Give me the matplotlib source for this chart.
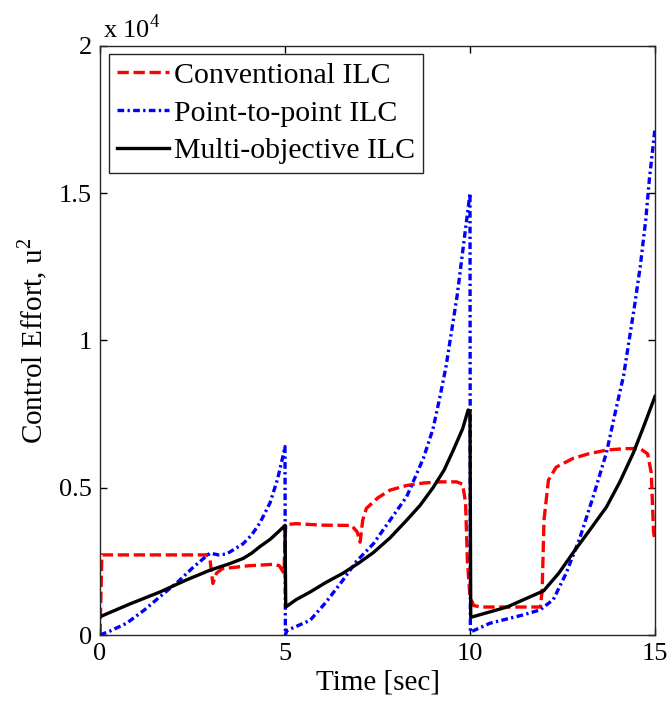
import matplotlib
matplotlib.use("Agg")
import matplotlib.pyplot as plt
import numpy as np
from matplotlib.ticker import FuncFormatter

plt.rcParams['font.family'] = ['Liberation Serif', 'DejaVu Serif']
plt.rcParams['mathtext.fontset'] = 'custom'
plt.rcParams['mathtext.rm'] = 'Liberation Serif'

# ---- data (values in thousands) ----
t_conv = [0, 0.05, 2.9, 2.97, 3.05, 3.15, 3.3, 4.0, 4.7, 4.85, 4.97, 5.02, 5.3, 6.0, 6.8,
          6.95, 7.03, 7.1, 7.2, 7.5, 7.84, 8.3, 8.74, 9.2, 9.64, 9.8, 9.88, 9.93, 10.0,
          10.1, 10.3, 11.9, 11.95, 12.0, 12.12, 12.33, 12.79, 13.2, 13.69, 14.2, 14.6,
          14.8, 14.9, 14.96, 15.0]
u_conv = [0, 2.72, 2.72, 2.6, 1.75, 2.1, 2.25, 2.35, 2.4, 2.35, 2.1, 3.75, 3.78, 3.73, 3.72,
          3.5, 3.15, 3.9, 4.3, 4.65, 4.92, 5.08, 5.16, 5.2, 5.2, 5.12, 4.5, 2.5, 1.3,
          1.0, 0.95, 0.95, 1.5, 3.9, 5.26, 5.7, 6.0, 6.15, 6.28, 6.33, 6.33,
          6.15, 5.5, 3.5, 3.2]

t_p2p = [0, 0.3, 0.72, 1.2, 1.62, 2.1, 2.52, 2.97, 3.2, 3.42, 3.87, 4.1, 4.32, 4.6, 4.8, 4.95, 5.0,
         5.01, 5.05, 5.68, 6.1, 6.57, 6.93, 7.39, 7.84, 8.29, 8.74, 9.0, 9.19, 9.35, 9.5, 9.65,
         9.75, 9.9, 10.0,
         10.01, 10.54, 11.43, 11.89, 12.25, 12.6, 12.97, 13.33, 13.69, 13.96, 14.15, 14.3, 14.45,
         14.6, 14.75, 14.85, 15.0]
u_p2p = [0.0, 0.15, 0.4, 0.85, 1.3, 1.8, 2.3, 2.78, 2.72, 2.75, 3.1, 3.4, 3.8, 4.5, 5.3, 6.1, 6.4,
         0.0, 0.15, 0.5, 1.1, 1.87, 2.5, 3.1, 3.9, 4.7, 6.0, 7.0, 8.1, 9.1, 10.3, 11.5,
         12.5, 14.0, 15.0,
         0.1, 0.4, 0.68, 0.85, 1.2, 2.1, 3.3, 4.7, 6.2, 7.75, 8.8, 10.0, 11.2,
         12.5, 14.1, 15.5, 17.2]

t_mo = [0, 0.8, 1.62, 2.3, 2.97, 3.5, 3.87, 4.1, 4.32, 4.6, 4.86, 5.0,
        5.02, 5.3, 5.68, 6.1, 6.57, 7.0, 7.39, 7.84, 8.29, 8.65, 9.0, 9.3, 9.55, 9.8, 9.95, 10.0,
        10.02, 11.0, 11.99, 12.4, 12.79, 13.2, 13.69, 14.05, 14.41, 14.7, 15.0]
u_mo = [0.62, 1.05, 1.46, 1.85, 2.2, 2.42, 2.6, 2.78, 3.0, 3.25, 3.55, 3.72,
        0.95, 1.2, 1.46, 1.78, 2.1, 2.45, 2.8, 3.3, 3.9, 4.4, 5.0, 5.6, 6.28, 7.0, 7.64, 7.6,
        0.6, 0.95, 1.5, 2.1, 2.8, 3.5, 4.35, 5.2, 6.17, 7.1, 8.1]

labels = ['Conventional ILC', 'Point-to-point ILC', 'Multi-objective ILC']
x_ticks = [0, 5, 10, 15]
y_ticks = [0, 5000, 10000, 15000, 20000]

fig = plt.figure(figsize=(6.71, 7.09), dpi=100)
ax = fig.add_axes([100/671, 74/709, 555/671, 589/709])

lw = 2.4
ax.plot(t_conv, np.array(u_conv)*1000, color='#ff0000', lw=lw, ls=(0, (3.4, 1.4)),
        label=labels[0], dash_capstyle='butt')
ax.plot(t_p2p, np.array(u_p2p)*1000, color='#0000ff', lw=lw, ls=(0, (2.0, 1.0, 0.7, 1.0)),
        label=labels[1], dash_capstyle='butt')
ax.plot(t_mo, np.array(u_mo)*1000, color='black', lw=lw, ls='-', label=labels[2])

ax.set_xlim(0, 15)
ax.set_ylim(0, 20000)
ax.set_xticks(x_ticks)
ax.set_yticks(y_ticks)
ax.yaxis.set_major_formatter(FuncFormatter(lambda v, p: ('%g' % (v/1e4))))
ax.tick_params(direction='in', top=True, right=True, length=5, width=1, labelsize=19, pad=6)
for s in ax.spines.values():
    s.set_linewidth(1.0)
    s.set_color('#262626')

ax.set_xlabel('Time [sec]', fontsize=21, labelpad=3)
ax.set_ylabel('Control Effort, u$^2$', fontsize=21, labelpad=6)

fig.text(103/671, 1 - 38/709, 'x 10$^4$', fontsize=19, ha='left', va='baseline')

leg = ax.legend(loc='upper left', bbox_to_anchor=(0.0155, 0.987), fontsize=21.5,
                frameon=True, fancybox=False, edgecolor='#262626', framealpha=1,
                handlelength=1.75, handletextpad=0.15, borderpad=0.28, labelspacing=0.36,
                borderaxespad=0)
leg.get_frame().set_linewidth(1.0)

fig.savefig('out.png', dpi=100)
